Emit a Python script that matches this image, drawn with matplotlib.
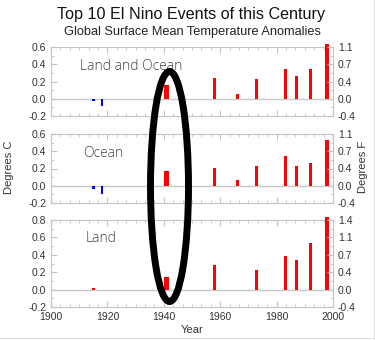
import matplotlib
matplotlib.use("Agg")
import matplotlib.pyplot as plt
from matplotlib.patches import Ellipse
from matplotlib.ticker import MultipleLocator

plt.rcParams['font.family'] = ['Liberation Sans', 'DejaVu Sans']

# top ten El Nino years and their anomalies (deg C)
years = [1915, 1918, 1941, 1958, 1966, 1973, 1983, 1987, 1992, 1998]
widths = [1.0, 0.8, 1.8, 1.1, 1.1, 1.1, 1.1, 1.1, 1.3, 1.5]
land_ocean = [-0.03, -0.08, 0.16, 0.235, 0.05, 0.23, 0.35, 0.26, 0.34, 0.64]
ocean = [-0.04, -0.10, 0.175, 0.21, 0.07, 0.23, 0.34, 0.23, 0.26, 0.53]
land = [0.015, -0.006, 0.14, 0.28, -0.006, 0.23, 0.39, 0.335, 0.53, 0.83]

panels = [
    ("Land and Ocean", land_ocean, (-0.2, 0.6), (1928.4, 0.37)),
    ("Ocean", ocean, (-0.2, 0.6), (1918.6, 0.37)),
    ("Land", land, (-0.2, 0.8), (1917.7, 0.59)),
]

W, H = 375, 340
fig = plt.figure(figsize=(W / 100, H / 100), dpi=100)

# axes boxes in pixels: (top, bottom)
boxes = [(47, 116), (134, 203), (220, 307)]
left, right = 51, 333

spine_col = '#c4c4c4'
text_col = '#333333'

for i, ((name, vals, ylim, lab), (top, bot)) in enumerate(zip(panels, boxes)):
    ax = fig.add_axes([left / W, 1 - bot / H, (right - left) / W, (bot - top) / H])
    cols = ['#ff0000' if v >= 0 else '#0000ff' for v in vals]
    ax.bar(years, vals, width=widths, color=cols, clip_on=False, zorder=3)
    ax.axhline(0, color='#c8c8c8', lw=1.0, zorder=1)
    ax.set_xlim(1900, 2000)
    ax.set_ylim(*ylim)
    ax.xaxis.set_major_locator(MultipleLocator(20))
    ax.xaxis.set_minor_locator(MultipleLocator(20 / 6))
    ax.yaxis.set_major_locator(MultipleLocator(0.2))
    ax.yaxis.set_minor_locator(MultipleLocator(0.1))
    ax.yaxis.set_major_formatter(matplotlib.ticker.FuncFormatter(lambda v, p: f"{v:.1f}"))
    ax.tick_params(which='both', direction='in', top=True, bottom=True, left=True,
                   right=False, color=spine_col, labelsize=7.5, labelcolor=text_col)
    ax.tick_params(which='major', length=4)
    ax.tick_params(which='minor', length=2)
    for s in ax.spines.values():
        s.set_color(spine_col)
        s.set_linewidth(0.8)
    if i < 2:
        ax.tick_params(labelbottom=False)
    else:
        ax.set_xlabel("Year", fontsize=8, color=text_col, labelpad=2)

    ax.text(lab[0], lab[1], name, ha='center', va='center', fontsize=10,
            color='#444444', family=['Open Sans', 'DejaVu Sans'], fontweight='light')

    # Fahrenheit scale on the right
    ax2 = ax.twinx()
    ax2.set_ylim(*ylim)
    ax2.yaxis.set_major_locator(MultipleLocator(0.2))
    ax2.yaxis.set_minor_locator(MultipleLocator(0.1))
    ax2.yaxis.set_major_formatter(matplotlib.ticker.FuncFormatter(lambda v, p: f"{v * 1.8 + 0.0:.1f}"))
    ax2.tick_params(which='both', direction='in', color=spine_col, labelsize=7.5,
                    labelcolor=text_col)
    ax2.tick_params(which='major', length=4)
    ax2.tick_params(which='minor', length=2)
    for s in ax2.spines.values():
        s.set_visible(False)

fig.text(191 / W, 1 - 15 / H, "Top 10 El Nino Events of this Century", ha='center',
         va='center', fontsize=11.6, color='#111111')
fig.text(192 / W, 1 - 32 / H, "Global Surface Mean Temperature Anomalies", ha='center',
         va='center', fontsize=9.2, color='#222222')
fig.text(9 / W, 1 - 167 / H, "Degrees C", rotation=90, ha='center', va='center',
         fontsize=8, color=text_col)
fig.text(363 / W, 1 - 167 / H, "Degrees F", rotation=90, ha='center', va='center',
         fontsize=8, color=text_col)

# highlight around the 1941 event
fig.add_artist(Ellipse((169.5 / W, 1 - 186.5 / H), 38 / W, 230 / H, transform=fig.transFigure,
                       fill=False, edgecolor='black', lw=5, zorder=10))

# frame edges
fig.add_artist(plt.Line2D([374 / W, 374 / W], [0, 1], transform=fig.transFigure,
                          color='#dddddd', lw=0.8))
fig.add_artist(plt.Line2D([0, 1], [2 / H, 2 / H], transform=fig.transFigure,
                          color='#dddddd', lw=0.8))

fig.savefig("out.png", dpi=100)
